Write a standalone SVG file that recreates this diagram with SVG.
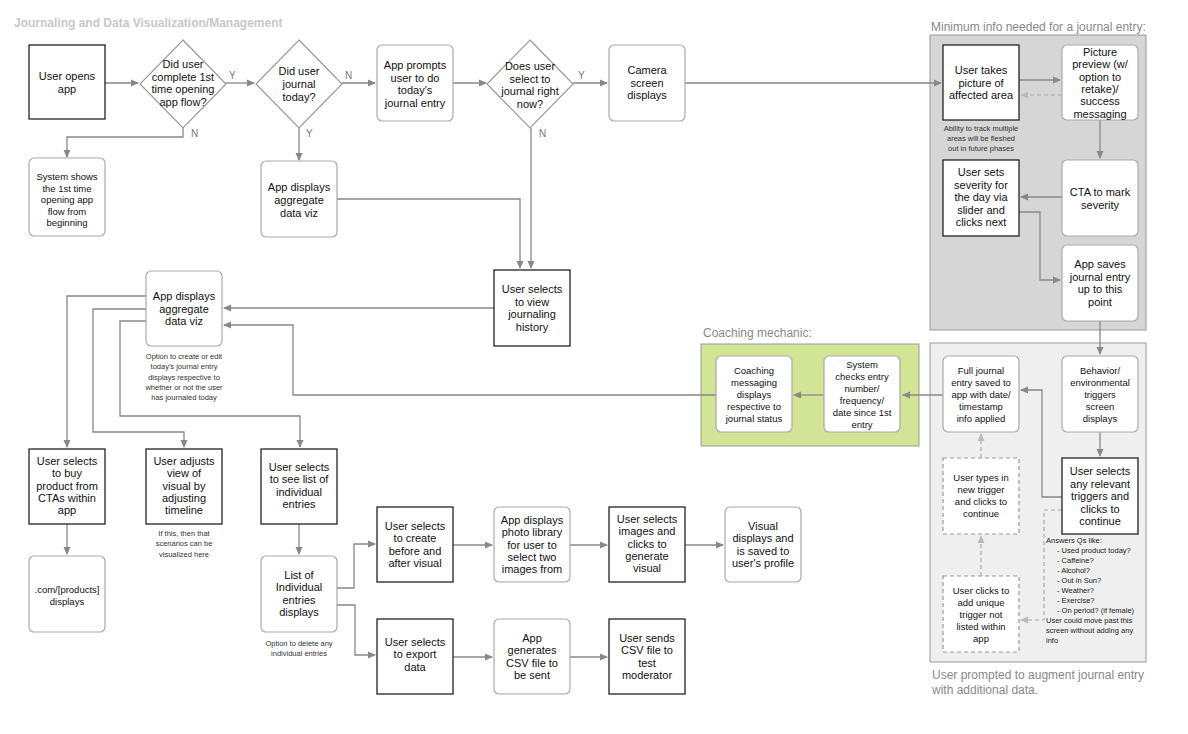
<svg xmlns="http://www.w3.org/2000/svg" width="1188" height="734" viewBox="0 0 1188 734">
<style>
.b{fill:#fff;stroke:#222;stroke-width:1.3}
.r{fill:#fff;stroke:#aaa;stroke-width:1.2}
.d{fill:#fff;stroke:#999;stroke-width:1.2}
.k{fill:#fff;stroke:#999;stroke-width:1.2;stroke-dasharray:4 3}
.t{font-family:"Liberation Sans",Arial,sans-serif;font-size:11px;fill:#111;text-anchor:middle}
.s{font-family:"Liberation Sans",Arial,sans-serif;font-size:9.5px;fill:#111;text-anchor:middle}
.c{font-family:"Liberation Sans",Arial,sans-serif;font-size:7.5px;fill:#333;text-anchor:middle}
.l{font-family:"Liberation Sans",Arial,sans-serif;font-size:10px;fill:#777}
.h{font-family:"Liberation Sans",Arial,sans-serif;font-size:12px;fill:#888}
.e{fill:none;stroke:#888;stroke-width:1.3;marker-end:url(#a)}
.ed{fill:none;stroke:#aaa;stroke-width:1.2;stroke-dasharray:4 3;marker-end:url(#ad)}
</style>
<defs>
<marker id="a" markerWidth="8" markerHeight="8" refX="7" refY="4" orient="auto" markerUnits="userSpaceOnUse"><path d="M0,0.5 L8,4 L0,7.5z" fill="#888"/></marker>
<marker id="ad" markerWidth="8" markerHeight="8" refX="7" refY="4" orient="auto" markerUnits="userSpaceOnUse"><path d="M0,0.5 L8,4 L0,7.5z" fill="#bbb"/></marker>
</defs>
<rect width="1188" height="734" fill="#fff"/>
<text x="14" y="27" font-family="Liberation Sans,Arial,sans-serif" font-size="12" font-weight="bold" fill="#c8c8c8">Journaling and Data Visualization/Management</text>

<g id="panels">
<rect x="930" y="35" width="216" height="295" fill="#d6d6d6" stroke="#999"/>
<rect x="930" y="343" width="216" height="319" fill="#efefef" stroke="#999"/>
<rect x="701" y="344" width="218" height="102" fill="#d2e495" stroke="#999"/>
<text class="h" x="931" y="31">Minimum info needed for a journal entry:</text>
<text class="h" x="703" y="337">Coaching mechanic:</text>
<text class="h" x="932" y="679">User prompted to augment journal entry</text>
<text class="h" x="932" y="694">with additional data.</text>
</g>

<g id="connectors">
<path class="e" d="M105,83 H138"/>
<path class="e" d="M225,83 H254"/>
<path class="e" d="M342,83 H375"/>
<path class="e" d="M453,83 H486"/>
<path class="e" d="M573,83 H607"/>
<path class="e" d="M685,83 H941"/>
<path class="e" d="M183,128 V137 H67 V157"/>
<path class="e" d="M299,128 V160"/>
<path class="e" d="M337,199 H520 V268"/>
<path class="e" d="M531,128 V268"/>
<path class="e" d="M1019,80 H1060"/>
<path class="ed" d="M1062,95 H1021"/>
<path class="e" d="M1100,120 V158"/>
<path class="e" d="M1062,197 H1021"/>
<path class="e" d="M1019,212 H1040 V280 H1060"/>
<path class="e" d="M1100,321 V354"/>
<path class="e" d="M1100,432 V456"/>
<path class="e" d="M1062,497 H1042 V390 H1021"/>
<path class="ed" d="M1062,510 H1044 V620 H1021"/>
<path class="ed" d="M981,576 V536"/>
<path class="ed" d="M981,458 V434"/>
<path class="e" d="M943,395 H903"/>
<path class="e" d="M824,395 H794"/>
<path class="e" d="M716,395 H293 V325 H224"/>
<path class="e" d="M494,308 H224"/>
<path class="e" d="M146,296 H67 V447"/>
<path class="e" d="M146,309 H93 V432 H184 V447"/>
<path class="e" d="M146,321 H120 V416 H300 V447"/>
<path class="e" d="M67,524 V554"/>
<path class="e" d="M299,524 V554"/>
<path class="e" d="M337,588 H354 V544 H375"/>
<path class="e" d="M337,605 H355 V655 H375"/>
<path class="e" d="M453,545 H492"/>
<path class="e" d="M570,545 H607"/>
<path class="e" d="M685,545 H723"/>
<path class="e" d="M453,657 H492"/>
<path class="e" d="M570,657 H607"/>
<text class="l" x="229" y="79">Y</text>
<text class="l" x="345" y="79">N</text>
<text class="l" x="578" y="79">Y</text>
<text class="l" x="191" y="137">N</text>
<text class="l" x="306" y="137">Y</text>
<text class="l" x="539" y="137">N</text>
</g>

<g id="n1"><rect class="b" x="29" y="45" width="76" height="74"/><text class="t" x="67" y="80">User opens<tspan x="67" dy="13">app</tspan></text></g>
<g id="n2"><path class="d" d="M183,40 L226,84 L183,128 L140,84z"/><text class="t" x="183" y="68">Did user<tspan x="183" dy="12.5">complete 1st</tspan><tspan x="183" dy="12.5">time opening</tspan><tspan x="183" dy="12.5">app flow?</tspan></text></g>
<g id="n3"><path class="d" d="M299,40 L342,84 L299,128 L256,84z"/><text class="t" x="299" y="75">Did user<tspan x="299" dy="13">journal</tspan><tspan x="299" dy="13">today?</tspan></text></g>
<g id="n4"><rect class="r" x="377" y="45" width="76" height="76" rx="5"/><text class="t" x="415" y="69">App prompts<tspan x="415" dy="12.5">user to do</tspan><tspan x="415" dy="12.5">today's</tspan><tspan x="415" dy="12.5">journal entry</tspan></text></g>
<g id="n5"><path class="d" d="M530,40 L573,84 L530,128 L487,84z"/><text class="t" x="530" y="70">Does user<tspan x="530" dy="12.5">select to</tspan><tspan x="530" dy="12.5">journal right</tspan><tspan x="530" dy="12.5">now?</tspan></text></g>
<g id="n6"><rect class="r" x="609" y="45" width="76" height="76" rx="5"/><text class="t" x="647" y="74">Camera<tspan x="647" dy="12.5">screen</tspan><tspan x="647" dy="12.5">displays</tspan></text></g>
<g id="n7"><rect class="r" x="29" y="158" width="76" height="78" rx="5"/><text class="s" x="67" y="180">System shows<tspan x="67" dy="11.5">the 1st time</tspan><tspan x="67" dy="11.5">opening app</tspan><tspan x="67" dy="11.5">flow from</tspan><tspan x="67" dy="11.5">beginning</tspan></text></g>
<g id="n8"><rect class="r" x="261" y="161" width="76" height="76" rx="5"/><text class="t" x="299" y="191">App displays<tspan x="299" dy="13">aggregate</tspan><tspan x="299" dy="13">data viz</tspan></text></g>
<g id="n9"><rect class="b" x="943" y="45" width="76" height="75"/><text class="t" x="981" y="74">User takes<tspan x="981" dy="12.5">picture of</tspan><tspan x="981" dy="12.5">affected area</tspan></text>
<text class="c" x="981" y="131">Ability to track multiple<tspan x="981" dy="10">areas will be fleshed</tspan><tspan x="981" dy="10">out in future phases</tspan></text></g>
<g id="n10"><rect class="r" x="1062" y="45" width="76" height="75" rx="5"/><text class="t" x="1100" y="56">Picture<tspan x="1100" dy="12.3">preview (w/</tspan><tspan x="1100" dy="12.3">option to</tspan><tspan x="1100" dy="12.3">retake)/</tspan><tspan x="1100" dy="12.3">success</tspan><tspan x="1100" dy="12.3">messaging</tspan></text></g>
<g id="n11"><rect class="b" x="943" y="160" width="76" height="76"/><text class="t" x="981" y="176">User sets<tspan x="981" dy="12.5">severity for</tspan><tspan x="981" dy="12.5">the day via</tspan><tspan x="981" dy="12.5">slider and</tspan><tspan x="981" dy="12.5">clicks next</tspan></text></g>
<g id="n12"><rect class="r" x="1062" y="160" width="76" height="76" rx="5"/><text class="t" x="1100" y="196">CTA to mark<tspan x="1100" dy="12.5">severity</tspan></text></g>
<g id="n13"><rect class="r" x="1062" y="245" width="76" height="76" rx="5"/><text class="t" x="1100" y="268">App saves<tspan x="1100" dy="12.5">journal entry</tspan><tspan x="1100" dy="12.5">up to this</tspan><tspan x="1100" dy="12.5">point</tspan></text></g>
<g id="n14"><rect class="b" x="494" y="270" width="76" height="76"/><text class="t" x="532" y="293">User selects<tspan x="532" dy="12.5">to view</tspan><tspan x="532" dy="12.5">journaling</tspan><tspan x="532" dy="12.5">history</tspan></text></g>
<g id="n15"><rect class="r" x="146" y="271" width="76" height="75" rx="5"/><text class="t" x="184" y="300">App displays<tspan x="184" dy="12.5">aggregate</tspan><tspan x="184" dy="12.5">data viz</tspan></text>
<text class="c" x="184" y="359">Option to create or edit<tspan x="184" dy="10.3">today's journal entry</tspan><tspan x="184" dy="10.3">displays respective to</tspan><tspan x="184" dy="10.3">whether or not the user</tspan><tspan x="184" dy="10.3">has journaled today</tspan></text></g>
<g id="n16"><rect class="r" x="716" y="356" width="76" height="76" rx="5"/><text class="s" x="754" y="374">Coaching<tspan x="754" dy="12">messaging</tspan><tspan x="754" dy="12">displays</tspan><tspan x="754" dy="12">respective to</tspan><tspan x="754" dy="12">journal status</tspan></text></g>
<g id="n17"><rect class="r" x="824" y="356" width="76" height="76" rx="5"/><text class="s" x="862" y="368">System<tspan x="862" dy="12">checks entry</tspan><tspan x="862" dy="12">number/</tspan><tspan x="862" dy="12">frequency/</tspan><tspan x="862" dy="12">date since 1st</tspan><tspan x="862" dy="12">entry</tspan></text></g>
<g id="n18"><rect class="r" x="943" y="356" width="76" height="76" rx="5"/><text class="s" x="981" y="374">Full journal<tspan x="981" dy="12">entry saved to</tspan><tspan x="981" dy="12">app with date/</tspan><tspan x="981" dy="12">timestamp</tspan><tspan x="981" dy="12">info applied</tspan></text></g>
<g id="n19"><rect class="r" x="1062" y="356" width="76" height="76" rx="5"/><text class="s" x="1100" y="374">Behavior/<tspan x="1100" dy="12">environmental</tspan><tspan x="1100" dy="12">triggers</tspan><tspan x="1100" dy="12">screen</tspan><tspan x="1100" dy="12">displays</tspan></text></g>
<g id="n20"><rect class="b" x="1062" y="458" width="76" height="76"/><text class="t" x="1100" y="475">User selects<tspan x="1100" dy="12.5">any relevant</tspan><tspan x="1100" dy="12.5">triggers and</tspan><tspan x="1100" dy="12.5">clicks to</tspan><tspan x="1100" dy="12.5">continue</tspan></text>
<text font-family="Liberation Sans,Arial,sans-serif" font-size="7.5" fill="#222" x="1046" y="543">Answers Qs like:<tspan x="1057" dy="10">-   Used product today?</tspan><tspan x="1057" dy="10">-   Caffeine?</tspan><tspan x="1057" dy="10">-   Alcohol?</tspan><tspan x="1057" dy="10">-   Out in Sun?</tspan><tspan x="1057" dy="10">-   Weather?</tspan><tspan x="1057" dy="10">-   Exercise?</tspan><tspan x="1057" dy="10">-   On period? (if female)</tspan><tspan x="1046" dy="10">User could move past this</tspan><tspan x="1046" dy="10">screen without adding any</tspan><tspan x="1046" dy="10">info</tspan></text></g>
<g id="n21"><rect class="k" x="943" y="458" width="76" height="76"/><text class="s" x="981" y="481">User types in<tspan x="981" dy="12">new trigger</tspan><tspan x="981" dy="12">and clicks to</tspan><tspan x="981" dy="12">continue</tspan></text></g>
<g id="n22"><rect class="k" x="943" y="576" width="76" height="76"/><text class="s" x="981" y="594">User clicks to<tspan x="981" dy="12">add unique</tspan><tspan x="981" dy="12">trigger not</tspan><tspan x="981" dy="12">listed within</tspan><tspan x="981" dy="12">app</tspan></text></g>
<g id="n23"><rect class="b" x="29" y="449" width="76" height="75"/><text class="t" x="67" y="465">User selects<tspan x="67" dy="12.3">to buy</tspan><tspan x="67" dy="12.3">product from</tspan><tspan x="67" dy="12.3">CTAs within</tspan><tspan x="67" dy="12.3">app</tspan></text></g>
<g id="n24"><rect class="b" x="146" y="449" width="76" height="75"/><text class="t" x="184" y="465">User adjusts<tspan x="184" dy="12.3">view of</tspan><tspan x="184" dy="12.3">visual by</tspan><tspan x="184" dy="12.3">adjusting</tspan><tspan x="184" dy="12.3">timeline</tspan></text>
<text class="c" x="184" y="536">If this, then that<tspan x="184" dy="10.3">scenarios can be</tspan><tspan x="184" dy="10.3">visualized here</tspan></text></g>
<g id="n25"><rect class="b" x="261" y="449" width="76" height="75"/><text class="t" x="299" y="471">User selects<tspan x="299" dy="12.3">to see list of</tspan><tspan x="299" dy="12.3">individual</tspan><tspan x="299" dy="12.3">entries</tspan></text></g>
<g id="n26"><rect class="r" x="29" y="556" width="76" height="76" rx="5"/><text class="s" x="67" y="593">.com/[products]<tspan x="67" dy="12">displays</tspan></text></g>
<g id="n27"><rect class="r" x="261" y="556" width="76" height="76" rx="5"/><text class="t" x="299" y="579">List of<tspan x="299" dy="12.3">Individual</tspan><tspan x="299" dy="12.3">entries</tspan><tspan x="299" dy="12.3">displays</tspan></text>
<text class="c" x="299" y="646">Option to delete any<tspan x="299" dy="10.3">individual entries</tspan></text></g>
<g id="n28"><rect class="b" x="377" y="507" width="76" height="75"/><text class="t" x="415" y="530">User selects<tspan x="415" dy="12.3">to create</tspan><tspan x="415" dy="12.3">before and</tspan><tspan x="415" dy="12.3">after visual</tspan></text></g>
<g id="n29"><rect class="r" x="494" y="507" width="76" height="75" rx="5"/><text class="t" x="532" y="524">App displays<tspan x="532" dy="12.3">photo library</tspan><tspan x="532" dy="12.3">for user to</tspan><tspan x="532" dy="12.3">select two</tspan><tspan x="532" dy="12.3">images from</tspan></text></g>
<g id="n30"><rect class="b" x="609" y="507" width="76" height="75"/><text class="t" x="647" y="523">User selects<tspan x="647" dy="12.3">images and</tspan><tspan x="647" dy="12.3">clicks to</tspan><tspan x="647" dy="12.3">generate</tspan><tspan x="647" dy="12.3">visual</tspan></text></g>
<g id="n31"><rect class="r" x="725" y="507" width="76" height="75" rx="5"/><text class="t" x="763" y="530">Visual<tspan x="763" dy="12.3">displays and</tspan><tspan x="763" dy="12.3">is saved to</tspan><tspan x="763" dy="12.3">user's profile</tspan></text></g>
<g id="n32"><rect class="b" x="377" y="619" width="76" height="75"/><text class="t" x="415" y="646">User selects<tspan x="415" dy="12.3">to export</tspan><tspan x="415" dy="12.3">data</tspan></text></g>
<g id="n33"><rect class="r" x="494" y="619" width="76" height="75" rx="5"/><text class="t" x="532" y="642">App<tspan x="532" dy="12.3">generates</tspan><tspan x="532" dy="12.3">CSV file to</tspan><tspan x="532" dy="12.3">be sent</tspan></text></g>
<g id="n34"><rect class="b" x="609" y="619" width="76" height="75"/><text class="t" x="647" y="642">User sends<tspan x="647" dy="12.3">CSV file to</tspan><tspan x="647" dy="12.3">test</tspan><tspan x="647" dy="12.3">moderator</tspan></text></g>
</svg>
